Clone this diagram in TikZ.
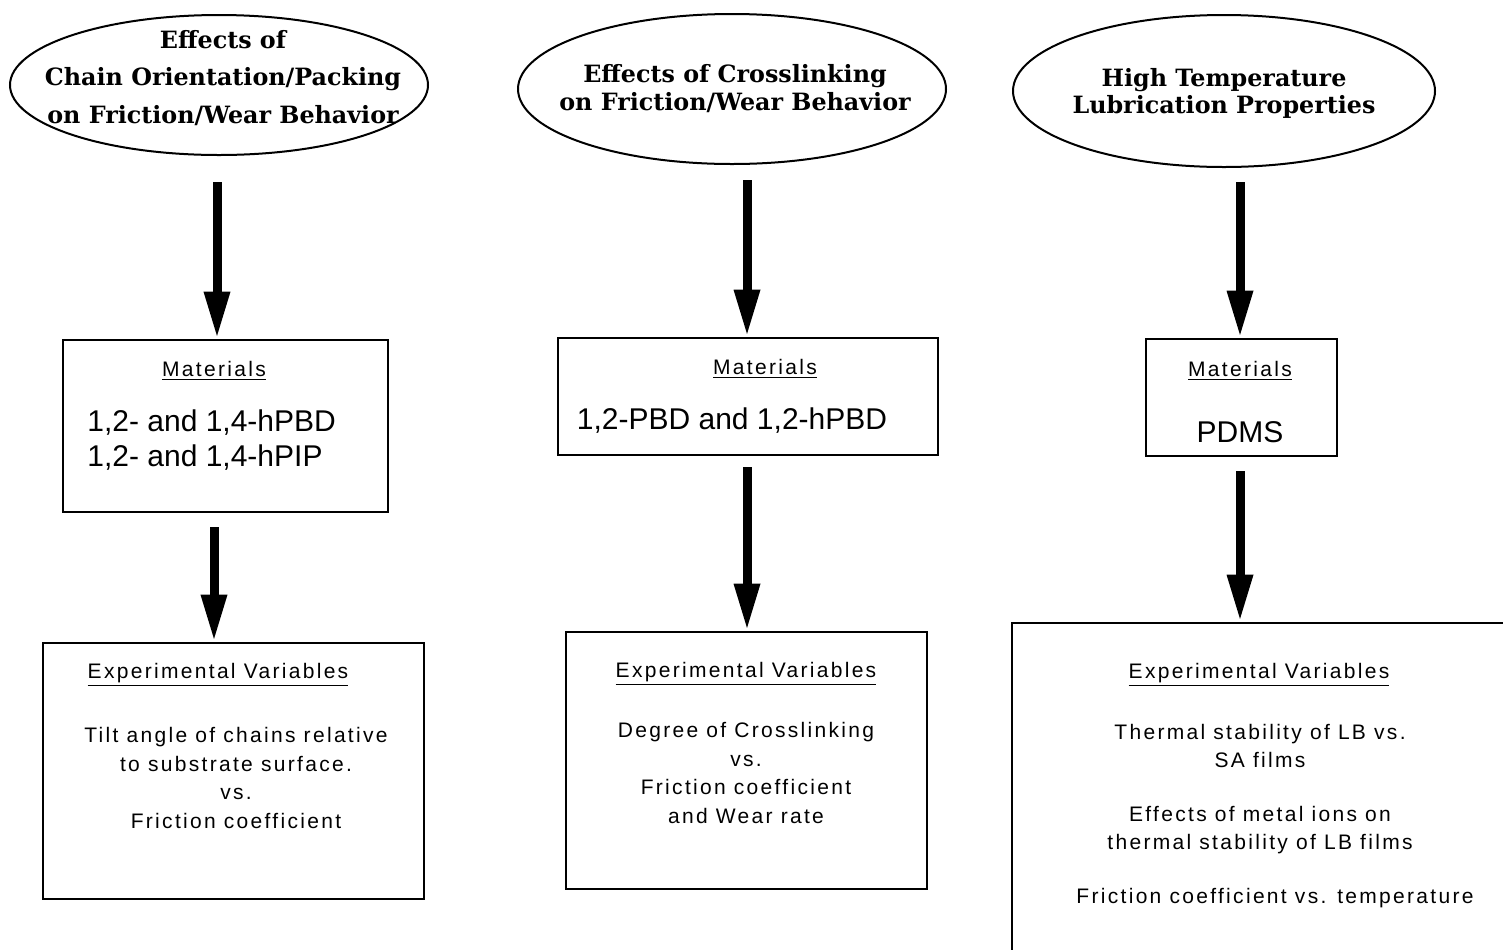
\documentclass[tikz,border=0pt]{standalone}
\usepackage{fontspec}
\usetikzlibrary{arrows.meta,shapes.geometric,fit}
\newfontfamily\bodyfont{Liberation Sans}
\newfontfamily\smallfont[LetterSpace=11]{Liberation Sans}
\newfontfamily\titlefont{DejaVu Serif}
\tikzset{
  oval/.style={draw, line width=1pt, ellipse, inner sep=0pt},
  title/.style={align=center, inner sep=0pt, font=\fontsize{11.9}{18.75}\titlefont\bfseries\selectfont},
  box/.style={draw, line width=1.3pt, inner sep=0pt, rectangle},
  head/.style={inner sep=0pt, font=\fontsize{10.5}{14}\smallfont},
  item/.style={inner sep=0pt, font=\fontsize{15}{17.5}\bodyfont},
  body/.style={inner sep=0pt, align=center, font=\fontsize{10.5}{14.25}\smallfont},
  flow/.style={line width=4.5pt, -{Triangle[length=23.5pt,width=12pt]}}
}
\begin{document}
\begin{tikzpicture}[x=0.5pt,y=-0.5pt]
\useasboundingbox (0,0) rectangle (1503,949);
\fill[white] (0,0) rectangle (1503,949);
\clip (0,0) rectangle (1503,949);

% ellipses
\node[oval, minimum width=209pt, minimum height=70pt] (e1) at (219,85) {};
\node[oval, minimum width=214pt, minimum height=75pt] (e2) at (732,89) {};
\node[oval, minimum width=211pt, minimum height=76pt] (e3) at (1224,91) {};
\node[title] (t1) at (223,78) {Effects of\\Chain Orientation/Packing\\on Friction/Wear Behavior};
\node[title, font=\fontsize{11.9}{14}\titlefont\bfseries\selectfont] (t2) at (735,89) {Effects of Crosslinking\\on Friction/Wear Behavior};
\node[title, font=\fontsize{11.9}{13.5}\titlefont\bfseries\selectfont] (t3) at (1224,93) {High Temperature\\Lubrication Properties};

% boxes
\node[box, fit={(63,340) (388,512)}] (m1) {};
\node[box, fit={(558,338) (938,455)}] (m2) {};
\node[box, fit={(1146,339) (1337,456)}] (m3) {};
\node[box, fit={(43,643) (424,899)}] (x1) {};
\node[box, fit={(566,632) (927,889)}] (x2) {};
\node[box, fit={(1012,623) (1600,1060)}] (x3) {};

% box texts
\node[head] (m1h) at (214,371) {\underline{Materials}};
\node[item, align=left, anchor=west] (m1t) at (87,440) {1,2- and 1,4-hPBD\\1,2- and 1,4-hPIP};
\node[head] (m2h) at (765,369) {\underline{Materials}};
\node[item] (m2t) at (732,421) {1,2-PBD and 1,2-hPBD};
\node[head] (m3h) at (1240,371) {\underline{Materials}};
\node[item] (m3t) at (1240,432) {PDMS};

\node[head] (x1h) at (218,675) {\underline{Experimental Variables}};
\node[body] (x1t) at (236,778) {Tilt angle of chains relative\\to substrate surface.\\vs.\\Friction coefficient};
\node[head] (x2h) at (746,674) {\underline{Experimental Variables}};
\node[body] (x2t) at (746,773) {Degree of Crosslinking\\vs.\\Friction coefficient\\and Wear rate};
\node[head] (x3h) at (1259,675) {\underline{Experimental Variables}};
\node[body] (x3a) at (1260,746) {Thermal stability of LB vs.\\SA films};
\node[body] (x3b) at (1260,830) {Effects of metal ions on\\thermal stability of LB films};
\node[body] (x3c) at (1275,898) {Friction coefficient vs. temperature};

% arrows
\coordinate (a1) at (217,182);
\coordinate (a2) at (214,527);
\coordinate (b1) at (747,180);
\coordinate (b2) at (747,467);
\coordinate (c1) at (1240,182);
\coordinate (c2) at (1240,471);
\draw[flow] (a1) -- (a1 |- m1.north);
\draw[flow] (a2) -- (a2 |- x1.north);
\draw[flow] (b1) -- (b1 |- m2.north);
\draw[flow] (b2) -- (b2 |- x2.north);
\draw[flow] (c1) -- (c1 |- m3.north);
\draw[flow] (c2) -- (c2 |- x3.north);
\end{tikzpicture}
\end{document}
